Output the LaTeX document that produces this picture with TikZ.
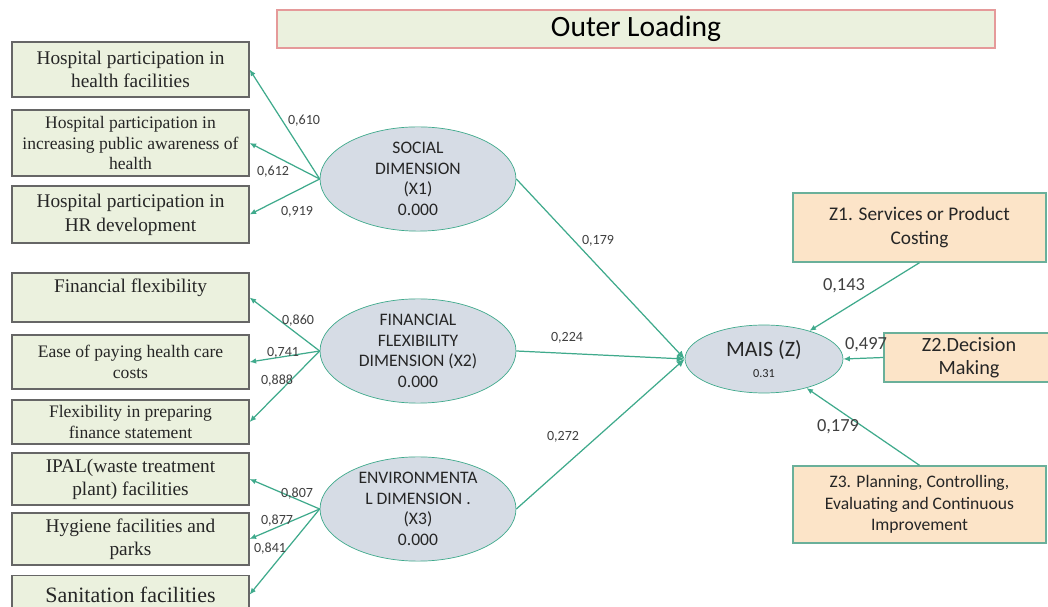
\documentclass[tikz,border=0pt]{standalone}
\usepackage{fontspec}
\setmainfont{Carlito}
\newfontfamily\serifbox{Liberation Serif}
\usetikzlibrary{positioning,arrows.meta,shapes.geometric}
\definecolor{link}{HTML}{3FAA8C}
\definecolor{indfill}{HTML}{EBF1DE}
\definecolor{latfill}{HTML}{D6DCE5}
\definecolor{zfill}{HTML}{FCE4C8}
\definecolor{zline}{HTML}{6AB09A}
\definecolor{titleline}{HTML}{E59A9A}

\begin{document}
\begin{tikzpicture}[x=0.02cm, y=-0.02cm, >={Latex[length=1.3mm,width=1.1mm]},
    ind/.style={draw=black!60, fill=indfill, line width=0.7pt, inner sep=1pt, align=center,
                minimum width=4.74cm, text=black!85},
    lat/.style={ellipse, draw=link, fill=latfill, minimum width=3.92cm, inner sep=0pt,
                align=center, text=black!85, font=\fontsize{10}{11.8}\selectfont},
    zbox/.style={draw=zline, fill=zfill, line width=0.8pt, inner sep=1pt, align=center, text=black!85},
    ld/.style={font=\fontsize{8}{9}\selectfont, text=black!75, inner sep=0pt},
    rd/.style={font=\fontsize{10.5}{12}\selectfont, text=black!75, inner sep=0pt},
    ln/.style={->, draw=link, line width=0.7pt}]

    \useasboundingbox[fill=white] (0,0) rectangle (1048,607);

    % ---- title
    \node[draw=titleline, fill=indfill, line width=0.8pt, minimum width=14.36cm,
          minimum height=0.76cm, font=\fontsize{16.8}{18}\selectfont] (title) at (636,29) {Outer Loading};

    % ---- indicators
    \foreach \n/\y/\h/\fs/\bs/\lab in {
        a1/69.5/1.10/11/13.5/{Hospital participation in\\health facilities},
        a2/143/1.32/10/11.9/{Hospital participation in\\increasing public awareness of\\health},
        a3/214.5/1.14/11/13.5/{Hospital participation in\\HR development},
        b1/297.5/0.98/11/13.5/{Financial flexibility\\~},
        b2/362/1.08/10/12/{Ease of paying health care\\costs},
        b3/422/0.88/10/12.5/{Flexibility in preparing\\finance statement},
        c1/479/1.04/11/13/{IPAL(waste treatment\\plant) facilities},
        c2/539/1.04/11/13/{Hygiene facilities and\\parks}}
      \node[ind, minimum height=\h cm, font=\serifbox\fontsize{\fs}{\bs}\selectfont] (\n) at (130.5,\y) {\lab};
    \node[ind, anchor=north, minimum height=0.76cm, font=\serifbox\fontsize{12.5}{14}\selectfont] (c3) at (130.5,575) {Sanitation facilities};

    % ---- latent variables
    \node[lat, minimum height=1.80cm] (x1) at (418,179) {SOCIAL\\DIMENSION\\(X1)\\0.000};
    \node[lat, minimum height=1.86cm] (x2) at (418,351) {FINANCIAL\\FLEXIBILITY\\DIMENSION (X2)\\0.000};
    \node[lat, minimum height=1.90cm] (x3) at (418,509) {ENVIRONMENTA\\L DIMENSION .\\(X3)\\0.000};
    \node[lat, minimum width=3.16cm, minimum height=1.36cm, font=\fontsize{12.5}{13}\selectfont] (mais) at (764,359)
      {MAIS (Z)\\[-1pt]{\fontsize{7}{8}\selectfont 0.31}};

    % ---- MAIS indicators
    \node[zbox, minimum width=5.06cm, minimum height=1.38cm, font=\fontsize{11}{14}\selectfont] (z1) at (919.5,227.5)
      {Z1. Services or Product\\Costing};
    \node[zbox, minimum width=3.4cm, minimum height=0.98cm, font=\fontsize{11.5}{13}\selectfont] (z2) at (969,357.5)
      {Z2.Decision\\Making};
    \node[zbox, minimum width=5.06cm, minimum height=1.54cm, font=\fontsize{10}{12.2}\selectfont] (z3) at (919.5,504.5)
      {Z3. Planning, Controlling,\\Evaluating and Continuous\\Improvement};

    % ---- loadings
    \foreach \s/\t in {x1/a1, x1/a2, x1/a3, x2/b1, x2/b2, x2/b3, x3/c1, x3/c2, x3/c3}
      \draw[ln] (\s.west) -- (\t.east);
    \foreach \s in {x1, x2, x3}
      \draw[ln, -{Latex[length=1.6mm,width=1.4mm]}] (\s.east) -- (mais.west);
    \draw[ln] (z1.south) -- (mais);
    \draw[ln] (z2.west) -- (mais.east);
    \draw[ln] (z3.north) -- (mais);

    % ---- values
    \foreach \p/\x/\y/\v in {p1/304/121/{0,610}, p2/273/172/{0,612}, p3/297/212/{0,919},
                             p4/298/321/{0,860}, p5/283/353/{0,741}, p6/277/381/{0,888},
                             p7/297/494/{0,807}, p8/277/521/{0,877}, p9/270/549/{0,841},
                             q1/598/241/{0,179}, q2/567/338/{0,224}, q3/563/437/{0,272}}
      \node[ld] (\p) at (\x,\y) {\v};
    \node[rd] (r1) at (844,286) {0,143};
    \node[rd] (r2) at (866,345) {0,497};
    \node[rd] (r3) at (838,427) {0,179};
\end{tikzpicture}
\end{document}
